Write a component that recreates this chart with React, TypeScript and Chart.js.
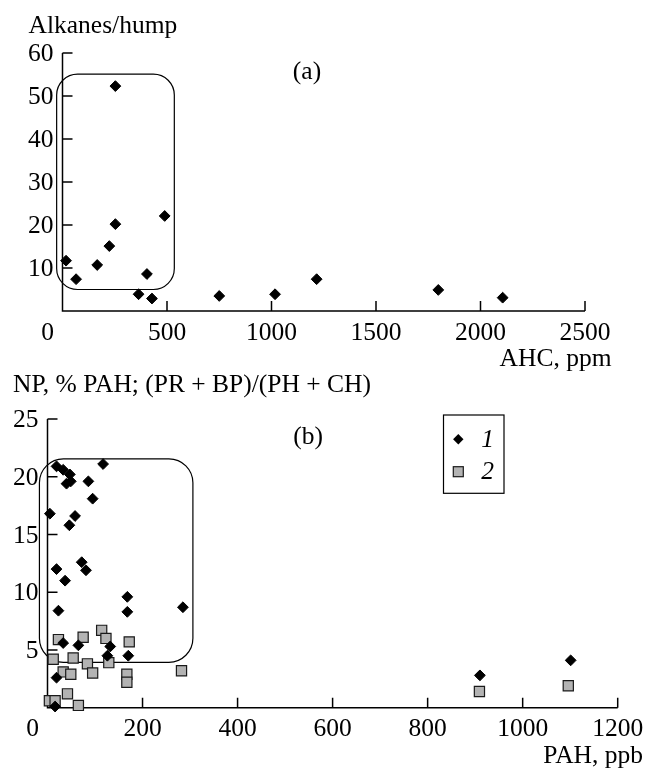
import React, { useEffect, useRef } from "react";
import { Chart, registerables } from "chart.js";

Chart.register(...registerables);

const FONT = '"Liberation Serif", "Times New Roman", serif';

// ---------- Panel (a) ----------
const ahcPpm = [17, 65, 166, 224, 253, 253, 364, 404, 428, 489, 750, 1017, 1216, 1798, 2106];
const alkanesHump = [11.7, 7.4, 10.7, 15.1, 52.3, 20.2, 3.9, 8.6, 2.9, 22.1, 3.5, 3.9, 7.4, 4.9, 3.1];
const aXTicks = [0, 500, 1000, 1500, 2000, 2500];
const aYTicks = [10, 20, 30, 40, 50, 60];
const aGroupBox = [-28, 535, 5.0, 55.1]; // xmin, xmax, ymin, ymax

// ---------- Panel (b) ----------
const s1Pah = [5, 19, 23, 37, 19, 16, 33, 19, 33, 47, 40, 49, 58, 46, 86, 95, 117, 72, 81, 65, 126, 132, 168, 168, 170, 285, 910, 1101];
const s1Np = [16.8, 12.0, 8.4, 11.0, 2.6, 0.1, 5.6, 20.9, 20.6, 20.2, 19.4, 19.6, 16.6, 15.8, 19.6, 18.1, 21.1, 12.6, 11.9, 5.4, 4.5, 5.3, 9.6, 8.3, 4.5, 8.7, 2.8, 4.1];
const s2Pah = [23, 12, 33, 54, 49, 75, 84, 95, 114, 123, 129, 172, 167, 167, 282, 42, 4, 16, 65, 909, 1096];
const s2Ratio = [5.9, 4.2, 3.1, 4.3, 2.9, 6.1, 3.8, 3.0, 6.7, 6.0, 3.9, 5.7, 2.9, 2.2, 3.2, 1.2, 0.6, 0.6, 0.2, 1.4, 1.9];
const bXTicks = [0, 200, 400, 600, 800, 1000, 1200];
const bYTicks = [5, 10, 15, 20, 25];
const bGroupBox = [-17, 306, 3.93, 21.55];
const legendLabels = ["1", "2"];

const DIAMOND = { pointStyle: "rectRot", pointRadius: 5.4, backgroundColor: "#000", borderColor: "#000", borderWidth: 1 };
const SQUARE = { pointStyle: "rect", pointRadius: 7.2, backgroundColor: "#b3b3b3", borderColor: "#1a1a1a", borderWidth: 1.2 };

function roundRect(ctx: CanvasRenderingContext2D, x0: number, y0: number, x1: number, y1: number, r: number) {
  ctx.beginPath();
  ctx.moveTo(x0 + r, y0);
  ctx.lineTo(x1 - r, y0);
  ctx.arcTo(x1, y0, x1, y0 + r, r);
  ctx.lineTo(x1, y1 - r);
  ctx.arcTo(x1, y1, x1 - r, y1, r);
  ctx.lineTo(x0 + r, y1);
  ctx.arcTo(x0, y1, x0, y1 - r, r);
  ctx.lineTo(x0, y0 + r);
  ctx.arcTo(x0, y0, x0 + r, y0, r);
  ctx.closePath();
}

type Deco = {
  xTicks: number[];
  yTicks: number[];
  box: number[];
  boxRadius: number;
  yTitle: string;
  yTitleX: number;
  yTitleY: number;
  xTitle: string;
  xTitleRight: number;
  xTitleY: number;
  panel: string;
  panelX: number;
  panelY: number;
  legend?: boolean;
};

function decoPlugin(d: Deco) {
  return {
    id: "deco",
    beforeDatasetsDraw(chart: any) {
      const ctx: CanvasRenderingContext2D = chart.ctx;
      const xs = chart.scales.x;
      const ys = chart.scales.y;
      const x0 = xs.getPixelForValue(xs.min);
      const x1 = xs.getPixelForValue(xs.max);
      const y0 = ys.getPixelForValue(ys.min);
      const y1 = ys.getPixelForValue(ys.max);
      ctx.save();
      ctx.strokeStyle = "#000";
      ctx.fillStyle = "#000";
      // group box
      ctx.lineWidth = 1.2;
      roundRect(ctx, xs.getPixelForValue(d.box[0]), ys.getPixelForValue(d.box[3]), xs.getPixelForValue(d.box[1]), ys.getPixelForValue(d.box[2]), d.boxRadius);
      ctx.stroke();
      // axes
      ctx.lineWidth = 1.5;
      ctx.beginPath();
      ctx.moveTo(x0, y1);
      ctx.lineTo(x0, y0);
      ctx.lineTo(x1, y0);
      ctx.stroke();
      ctx.beginPath();
      for (const t of d.xTicks) {
        if (t === xs.min) continue;
        const px = xs.getPixelForValue(t);
        ctx.moveTo(px, y0);
        ctx.lineTo(px, y0 - 10);
      }
      for (const t of d.yTicks) {
        const py = ys.getPixelForValue(t);
        ctx.moveTo(x0, py);
        ctx.lineTo(x0 + 10, py);
      }
      ctx.stroke();
      // tick labels
      ctx.font = `25.5px ${FONT}`;
      ctx.textBaseline = "middle";
      ctx.textAlign = "center";
      for (const t of d.xTicks) {
        const px = xs.getPixelForValue(t) + (t === 0 ? -15 : 0);
        ctx.fillText(String(t), px, y0 + 22);
      }
      ctx.textAlign = "right";
      for (const t of d.yTicks) {
        ctx.fillText(String(t), x0 - 9, ys.getPixelForValue(t) + 1.5);
      }
      // titles
      ctx.textAlign = "left";
      ctx.textBaseline = "alphabetic";
      ctx.fillText(d.yTitle, d.yTitleX, d.yTitleY);
      ctx.textAlign = "right";
      ctx.textBaseline = "middle";
      ctx.fillText(d.xTitle, d.xTitleRight, d.xTitleY);
      ctx.textAlign = "center";
      ctx.fillText(d.panel, d.panelX, d.panelY);
      // legend frame and labels
      if (d.legend) {
        ctx.lineWidth = 1.2;
        ctx.strokeRect(443.5, 50, 60.5, 78.3);
        const ly = [75, 107];
        ctx.font = `italic 25.5px ${FONT}`;
        ctx.textAlign = "center";
        legendLabels.forEach((lab, i) => {
          ctx.fillText(lab, 487.5, ly[i]);
        });
      }
      ctx.restore();
    },
  };
}

function legendMarkers() {
  return {
    id: "legendMarkers",
    afterDatasetsDraw(chart: any) {
      const ctx: CanvasRenderingContext2D = chart.ctx;
      ctx.save();
      // diamond
      ctx.fillStyle = "#000";
      ctx.beginPath();
      const cx = 458.3, cy = 74.3, r = 5.2;
      ctx.moveTo(cx, cy - r);
      ctx.lineTo(cx + r, cy);
      ctx.lineTo(cx, cy + r);
      ctx.lineTo(cx - r, cy);
      ctx.closePath();
      ctx.fill();
      // square
      ctx.fillStyle = SQUARE.backgroundColor;
      ctx.strokeStyle = SQUARE.borderColor;
      ctx.lineWidth = SQUARE.borderWidth;
      ctx.fillRect(453.3, 101.7, 10, 10);
      ctx.strokeRect(453.3, 101.7, 10, 10);
      ctx.restore();
    },
  };
}

function baseOptions(padding: any, xMax: number, yMax: number) {
  return {
    responsive: false,
    animation: false as const,
    devicePixelRatio: 1,
    events: [],
    layout: { padding },
    plugins: { legend: { display: false }, tooltip: { enabled: false } },
    scales: {
      x: { type: "linear" as const, min: 0, max: xMax, display: false },
      y: { type: "linear" as const, min: 0, max: yMax, display: false },
    },
  };
}

function toPoints(xs: number[], ys: number[]) {
  return xs.map((x, i) => ({ x, y: ys[i] }));
}

export default function App() {
  const refA = useRef<HTMLCanvasElement>(null);
  const refB = useRef<HTMLCanvasElement>(null);

  useEffect(() => {
    const chartA = new Chart(refA.current!, {
      type: "scatter",
      data: {
        datasets: [{ data: toPoints(ahcPpm, alkanesHump), ...DIAMOND, clip: false } as any],
      },
      options: baseOptions({ left: 62.5, right: 62, top: 53, bottom: 74 }, 2500, 60) as any,
      plugins: [
        decoPlugin({
          xTicks: aXTicks,
          yTicks: aYTicks,
          box: aGroupBox,
          boxRadius: 21,
          yTitle: "Alkanes/hump",
          yTitleX: 28.5,
          yTitleY: 33,
          xTitle: "AHC, ppm",
          xTitleRight: 611.5,
          xTitleY: 359,
          panel: "(a)",
          panelX: 307,
          panelY: 72,
        }) as any,
      ],
    });
    const chartB = new Chart(refB.current!, {
      type: "scatter",
      data: {
        datasets: [
          { data: toPoints(s1Pah, s1Np), ...DIAMOND, clip: false } as any,
          { data: toPoints(s2Pah, s2Ratio), ...SQUARE, clip: false } as any,
        ],
      },
      options: baseOptions({ left: 47.5, right: 29.3, top: 54, bottom: 62.3 }, 1200, 25) as any,
      plugins: [
        decoPlugin({
          xTicks: bXTicks,
          yTicks: bYTicks,
          box: bGroupBox,
          boxRadius: 24,
          yTitle: "NP, % PAH; (PR + BP)/(PH + CH)",
          yTitleX: 13,
          yTitleY: 27,
          xTitle: "PAH, ppb",
          xTitleRight: 643,
          xTitleY: 391,
          panel: "(b)",
          panelX: 308,
          panelY: 72,
          legend: true,
        }) as any,
        legendMarkers() as any,
      ],
    });
    return () => {
      chartA.destroy();
      chartB.destroy();
    };
  }, []);

  return (
    <div style={{ position: "absolute", left: 0, top: 0, width: 647, height: 770, background: "#fff" }}>
      <canvas ref={refA} width={647} height={385} style={{ position: "absolute", left: 0, top: 0, width: 647, height: 385 }} />
      <canvas ref={refB} width={647} height={405} style={{ position: "absolute", left: 0, top: 365, width: 647, height: 405 }} />
    </div>
  );
}
